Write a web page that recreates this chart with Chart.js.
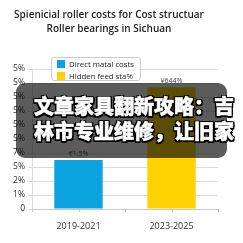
<!DOCTYPE html>
<html>
<head>
<meta charset="utf-8">
<script src="https://cdn.jsdelivr.net/npm/chart.js@4/dist/chart.umd.min.js"></script>
<style>
  html,body{margin:0;padding:0;background:#fff;}
  #wrap{position:relative;width:243px;height:243px;overflow:hidden;}
  #c{position:absolute;left:0;top:0;}
  #legend{position:absolute;left:51px;top:57px;width:88px;height:22px;border:1px solid #ccc;border-radius:3px;background:#fff;font-family:"Open Sans",sans-serif;font-size:7.8px;color:#222;}
  #legend .it{position:absolute;left:5px;height:10px;line-height:10px;white-space:nowrap;}
  #legend .sw{display:inline-block;width:8px;height:8px;vertical-align:-1px;margin-right:4px;}
  #ovl{position:absolute;left:16px;top:83px;width:211px;height:75px;border-radius:9px;background:rgba(8,8,8,0.66);}
  #otxt{position:absolute;left:34px;top:93px;font-family:"Noto Sans CJK SC",sans-serif;font-weight:900;font-size:20px;line-height:25px;color:#fff;white-space:nowrap;
    -webkit-text-stroke:0.5px #fff;
    text-shadow:1.5px 1.5px 0 #000,-1.5px -1.5px 0 #000,1.5px -1.5px 0 #000,-1.5px 1.5px 0 #000,0 1.5px 0 #000,0 -1.5px 0 #000,1.5px 0 0 #000,-1.5px 0 0 #000;}
</style>
</head>
<body>
<div id="wrap">
<canvas id="c" width="243" height="243"></canvas>
<div id="legend"></div>
<div id="ovl"></div>
<div id="otxt">文章家具翻新攻略：吉<br>林市专业维修，让旧家</div>
</div>
<script>
const titleLines = ["Spienicial roller costs for Cost structuar", "Roller bearings in Sichuan"];
const categories = ["2019-2021", "2023-2025"];
const seriesNames = ["Direct matal costs", "Hidden feed sta%"];
const seriesColors = ["#0aa3df", "#ffd200"];
const directValues = [3.5, null];
const hiddenValues = [null, 8.7];
const valueLabels = ["€1.5%", "¥644%"];
const yTickLabels = ["0", "1%", "2%", "5%", "7%", "5%", "5%", "5%", "5%", "5%", "5%"];

// HTML legend
const lg = document.getElementById('legend');
seriesNames.forEach((n, i) => {
  const d = document.createElement('div');
  d.className = 'it';
  d.style.top = (1 + i * 12) + 'px';
  d.innerHTML = '<span class="sw" style="background:' + seriesColors[i] + '"></span>' + n;
  lg.appendChild(d);
});

const labelPlugin = {
  id: 'valLabels',
  afterDatasetsDraw(chart) {
    const ctx = chart.ctx;
    ctx.save();
    ctx.font = '7px "Open Sans", sans-serif';
    ctx.fillStyle = '#444';
    ctx.textAlign = 'center';
    ctx.textBaseline = 'bottom';
    chart.data.datasets.forEach((ds, di) => {
      const meta = chart.getDatasetMeta(di);
      meta.data.forEach((el, i) => {
        if (ds.data[i] == null) return;
        ctx.fillText(valueLabels[i], el.x, el.y - 3);
      });
    });
    const xs = chart.scales.x;
    const bottom = chart.chartArea.bottom;
    ctx.strokeStyle = '#c8c8c8';
    ctx.lineWidth = 1;
    const n = categories.length;
    for (let i = 0; i <= 2 * n; i++) {
      const x = Math.round(xs.left + (xs.right - xs.left) * i / (2 * n)) + 0.5;
      ctx.beginPath();
      ctx.moveTo(x, bottom);
      ctx.lineTo(x, bottom + 3);
      ctx.stroke();
    }
    ctx.restore();
  }
};

new Chart(document.getElementById('c'), {
  type: 'bar',
  data: {
    labels: categories,
    datasets: [
      { label: seriesNames[0], data: directValues, backgroundColor: seriesColors[0] },
      { label: seriesNames[1], data: hiddenValues, backgroundColor: seriesColors[1] }
    ]
  },
  options: {
    responsive: false,
    animation: false,
    devicePixelRatio: 1,
    layout: { padding: { left: 0, right: 25, top: 0, bottom: 0 } },
    datasets: { bar: { categoryPercentage: 0.8, barPercentage: 0.65 } },
    plugins: {
      legend: { display: false },
      tooltip: { enabled: false },
      title: {
        display: true,
        text: titleLines,
        color: '#222',
        font: { family: '"Open Sans", sans-serif', size: 10, weight: '600', lineHeight: 1.4 },
        padding: { top: 8, bottom: 33 }
      }
    },
    scales: {
      x: {
        stacked: true,
        grid: { display: false },
        border: { display: true, color: '#c8c8c8' },
        ticks: { color: '#333', padding: 4, font: { family: '"Open Sans", sans-serif', size: 9 } },
        afterFit(s) { s.height = 34; }
      },
      y: {
        stacked: false,
        min: 0, max: 10,
        grid: { color: '#dcdcdc', tickLength: 4 },
        border: { display: true, color: '#dcdcdc' },
        ticks: {
          stepSize: 1, padding: 3, color: '#333',
          font: { family: '"Open Sans", sans-serif', size: 8.5 },
          callback: (v, i) => yTickLabels[i]
        },
        afterFit(s) { s.width = 32; }
      }
    }
  },
  plugins: [labelPlugin]
});
</script>
</body>
</html>
